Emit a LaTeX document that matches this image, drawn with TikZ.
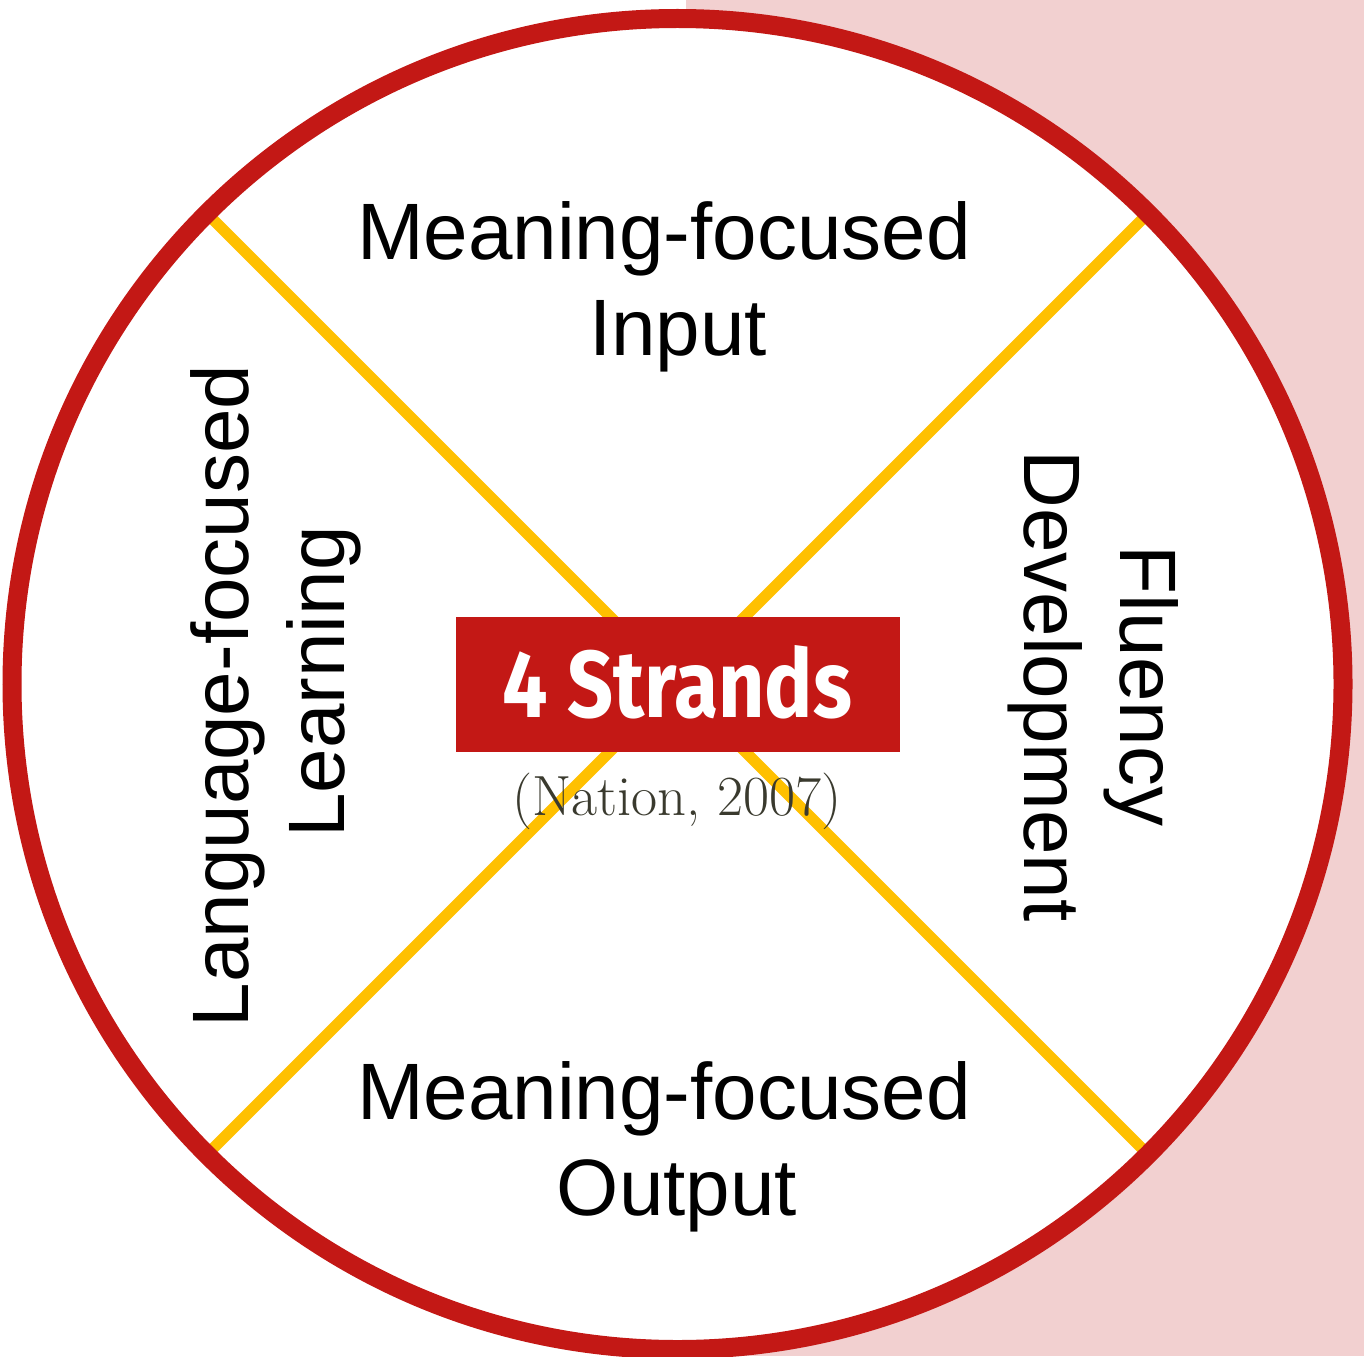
\documentclass[tikz,border=0pt]{standalone}
\usepackage{fontspec}
\setmainfont{Liberation Sans}
\newfontfamily\strandsfont{Fira Sans}
\newfontfamily\citefont{Latin Modern Roman}
\definecolor{ringred}{HTML}{C31815}
\definecolor{bgpink}{HTML}{F2D0D0}
\definecolor{crossyellow}{HTML}{FFC000}
\definecolor{citegray}{HTML}{3A3A2E}
\tikzset{
  label80/.style={inner sep=0pt, anchor=base, text=black, font=\fontsize{80}{96}\selectfont},
  crossline/.style={draw=crossyellow, line width=11pt, line cap=butt},
  ring/.style={draw=ringred, line width=19pt},
  titlebox/.style={fill=ringred, draw=none, inner sep=0pt}
}
\begin{document}
\begin{tikzpicture}[x=1pt,y=-1pt]
\useasboundingbox (0,0) rectangle (1364,1356);
\fill[white] (0,0) rectangle (1364,1356);
\fill[bgpink] (686,0) rectangle (1364,1356);
\coordinate (c) at (677.5,684);
\fill[white] (c) circle[radius=665.5];
\coordinate (tl) at (210.1,216.6);
\coordinate (tr) at (1144.9,216.6);
\coordinate (bl) at (210.1,1151.4);
\coordinate (br) at (1144.9,1151.4);
\draw[crossline] (tl) -- (br);
\draw[crossline] (tr) -- (bl);
\draw[ring] (c) circle[radius=665.5];
% centre box
\fill[titlebox] (456,617) rectangle (900,752);
\node[inner sep=0pt, anchor=base, text=white] (strands) at (677.5,717)
  {\resizebox{349pt}{72pt}{\strandsfont\bfseries 4 Strands}};
\node[inner sep=0pt, anchor=base, text=citegray] (cite) at (677,815)
  {\resizebox{330pt}{!}{\citefont\fontsize{51}{60}\selectfont (Nation, 2007)}};
% top
\node[label80] (mfi1) at (664,259) {Meaning-focused};
\node[label80] (mfi2) at (678,355) {Input};
% bottom
\node[label80] (mfo1) at (664,1119) {Meaning-focused};
\node[label80] (mfo2) at (677,1215) {Output};
% left
\node[label80, rotate=90] (lfl1) at (248,696) {Language-focused};
\node[label80, rotate=90] (lfl2) at (344,682) {Learning};
% right
\node[label80, rotate=-90] (fd1) at (1120,686) {Fluency};
\node[label80, rotate=-90] (fd2) at (1024,686) {Development};
\end{tikzpicture}
\end{document}
